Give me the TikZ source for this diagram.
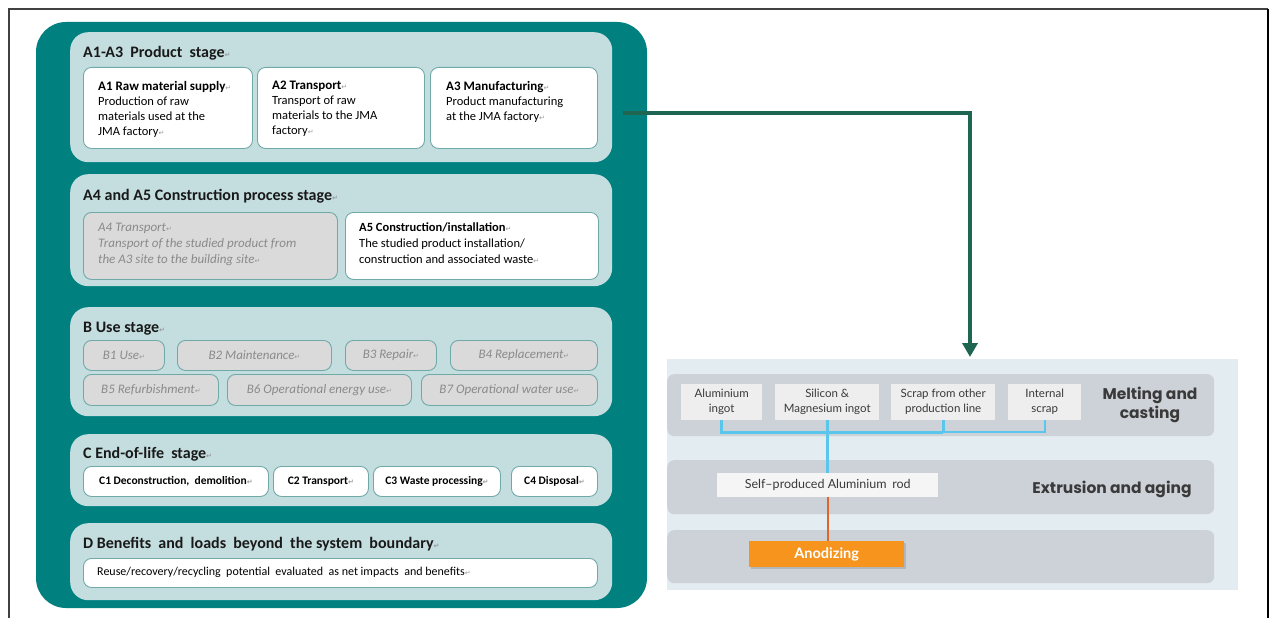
\documentclass[tikz,border=0pt]{standalone}
\usepackage{fontspec}
\setmainfont{Carlito}
\newfontfamily\latof{Lato}
\newfontfamily\popf{Poppins}
\newfontfamily\djvf{DejaVu Sans}
\usetikzlibrary{arrows.meta,shadows}
\definecolor{tealc}{HTML}{00807F}
\definecolor{panelc}{HTML}{C4DEDF}
\definecolor{bordc}{HTML}{6FA9A8}
\definecolor{greyc}{HTML}{DADADA}
\definecolor{gtext}{HTML}{8A8A8A}
\definecolor{retc}{HTML}{9A9A9A}
\definecolor{arrc}{HTML}{1E6652}
\definecolor{rbg}{HTML}{E3ECF0}
\definecolor{bandc}{HTML}{CDD2D8}
\definecolor{sboxc}{HTML}{EEEEEE}
\definecolor{bluec}{HTML}{5BC6EC}
\definecolor{oranl}{HTML}{E0652A}
\definecolor{oranf}{HTML}{F7941E}
\definecolor{darkt}{HTML}{3A3A3A}
\newcommand{\retm}{{\djvf\fontsize{7}{7}\selectfont\color{retc}↵}}
\newcommand{\wsp}{\hspace{0.45em}}
\tikzset{
  panel/.style={fill=panelc, draw=none, rounded corners=18, minimum width=542, anchor=north west, inner sep=0},
  wbox/.style={fill=white, draw=bordc, line width=0.9, rounded corners=8, anchor=north west, inner sep=0},
  gbox/.style={wbox, fill=greyc},
  stitle/.style={anchor=base west, inner sep=0, font=\fontsize{16}{18}\selectfont\bfseries, text=black!90},
  btext/.style={anchor=north west, inner sep=0, align=left, font=\fontsize{12.5}{15}\selectfont},
  itext/.style={font=\fontsize{13}{16}\selectfont\itshape, text=gtext},
  ctext/.style={font=\fontsize{11.5}{13}\selectfont\bfseries},
  band/.style={fill=bandc, draw=none, rounded corners=7, anchor=north west, inner sep=0, minimum width=547},
  sbox/.style={fill=sboxc, draw=none, anchor=north west, inner sep=0, align=center, font=\latof\fontsize{11.5}{15}\selectfont, text=darkt},
  blabel/.style={inner sep=0, align=center, font=\popf\fontsize{15.5}{19}\selectfont\bfseries, text=darkt},
  bthick/.style={draw=bluec, line width=3},
  bthin/.style={draw=bluec, line width=1.6},
  arr/.style={draw=arrc, line width=3.5, -{Triangle[width=15pt,length=14pt]}}
}
\begin{document}
\begin{tikzpicture}[x=1pt,y=-1pt]
\useasboundingbox (0,0) rectangle (1270,618);
\fill[white] (0,0) rectangle (1270,618);
% frame
\draw[black!75, line width=1.3] (9,618) -- (9,9) -- (1268,9);
\draw[black, line width=2] (1268,9) -- (1268,618);
% teal background
\fill[tealc, rounded corners=30] (36,22) rectangle (647,608);
% stage panels
\node[panel, minimum height=130] (pA) at (70,32) {};
\node[panel, minimum height=112] (pB0) at (70,174) {};
\node[panel, minimum height=109] (pB) at (70,307) {};
\node[panel, minimum height=72] (pC) at (70,434) {};
\node[panel, minimum height=77] (pD) at (70,523) {};
% A1-A3
\node[stitle] (tA) at (83,58) {A1-A3\wsp Product\wsp stage\retm};
\node[wbox, minimum width=169, minimum height=81] (a1) at (83,67) {};
\node[wbox, minimum width=167, minimum height=81] (a2) at (257,67) {};
\node[wbox, minimum width=167, minimum height=81] (a3) at (430,67) {};
\node[btext] (a1t) at (98,81) {{\fontsize{13}{15}\selectfont\bfseries A1 Raw material supply}\retm\\Production of raw\\materials used at the\\JMA factory\retm};
\node[btext] (a2t) at (272,81) {{\fontsize{13}{15}\selectfont\bfseries A2 Transport}\retm\\Transport of raw\\materials to the JMA\\factory\retm};
\node[btext] (a3t) at (446,81) {{\fontsize{13}{15}\selectfont\bfseries A3 Manufacturing}\retm\\Product manufacturing\\at the JMA factory\retm};
% A4 A5
\node[stitle] (tA45) at (83,200) {A4 and A5 Construction process stage\retm};
\node[gbox, minimum width=254, minimum height=67] (a4) at (83,212) {};
\node[wbox, minimum width=253, minimum height=67] (a5) at (345,212) {};
\node[btext, itext, anchor=north west] (a4t) at (98,223) {A4 Transport\retm\\Transport of the studied product from\\the A3 site to the building site\retm};
\node[btext, anchor=north west, font=\fontsize{12.5}{16}\selectfont] (a5t) at (359,223) {{\bfseries A5 Construction/installation}\retm\\The studied product installation/\\construction and associated waste\retm};
% B
\node[stitle] (tB) at (83,332) {B Use stage\retm};
\node[gbox, minimum width=81, minimum height=30, itext] (b1) at (83,340) {B1 Use\retm};
\node[gbox, minimum width=154, minimum height=30, itext] (b2) at (177,340) {B2 Maintenance\retm};
\node[gbox, minimum width=91, minimum height=30, itext] (b3) at (345,340) {B3 Repair\retm};
\node[gbox, minimum width=147, minimum height=30, itext] (b4) at (450,340) {B4 Replacement\retm};
\node[gbox, minimum width=135, minimum height=31, itext] (b5) at (83,374) {B5 Refurbishment\retm};
\node[gbox, minimum width=184, minimum height=31, itext] (b6) at (227,374) {B6 Operational energy use\retm};
\node[gbox, minimum width=176, minimum height=31, itext] (b7) at (421,374) {B7 Operational water use\retm};
% C
\node[stitle] (tC) at (83,458) {C End-of-life\wsp stage\retm};
\node[wbox, minimum width=185, minimum height=30, ctext] (c1) at (83,466) {C1 Deconstruction,\wsp demolition\retm};
\node[wbox, minimum width=95, minimum height=30, ctext] (c2) at (273,466) {C2 Transport\retm};
\node[wbox, minimum width=127, minimum height=30, ctext] (c3) at (373,466) {C3 Waste processing\retm};
\node[wbox, minimum width=86, minimum height=30, ctext] (c4) at (511,466) {C4 Disposal\retm};
% D
\node[stitle] (tD) at (83,548) {D Benefits\wsp and\wsp loads\wsp beyond\wsp the system\wsp boundary\retm};
\node[wbox, minimum width=514, minimum height=29] (d1) at (83,558) {};
\node[anchor=west, inner sep=0, font=\fontsize{12}{13}\selectfont] (d1t) at (97,572.5) {Reuse/recovery/recycling\wsp potential\wsp evaluated\wsp as net impacts\wsp and benefits\retm};
% right panel
\fill[rbg] (667,359) rectangle (1238,590);
\node[band, minimum height=62] (m1) at (667,374) {};
\node[band, minimum height=54] (m2) at (667,460) {};
\node[band, minimum height=53] (m3) at (667,530) {};
\node[sbox, minimum width=81, minimum height=36] (al) at (681,384) {Aluminium\\ingot};
\node[sbox, minimum width=104, minimum height=36] (si) at (775,384) {Silicon \&\\Magnesium ingot};
\node[sbox, minimum width=104, minimum height=36] (sc) at (891,384) {Scrap from other\\production line};
\node[sbox, minimum width=73, minimum height=36] (is) at (1008,384) {Internal\\scrap};
\node[blabel] (lm) at (1150,405) {Melting and\\casting};
\node[sbox, minimum width=221, minimum height=24, font=\latof\fontsize{12.5}{15}\selectfont, fill=sboxc!60!white] (rod) at (717,473) {Self–produced Aluminium\wsp rod};
\node[blabel] (le) at (1112,489) {Extrusion and aging};
\node[anchor=north west, inner sep=0, minimum width=155, minimum height=26, fill=oranf, text=white, font=\latof\fontsize{14.5}{16}\selectfont\bfseries, drop shadow={shadow xshift=2pt, shadow yshift=-2pt, opacity=0.35}] (ano) at (749,541) {Anodizing};
% blue connectors
\coordinate (busy) at (0,432);
\draw[bthick] (al.south) -- (al.south |- busy) -- (sc.south |- busy);
\draw[bthick] (sc.south) -- (sc.south |- busy);
\draw[bthin] (sc.south |- busy) -- (is.south |- busy) -- (is.south);
\draw[bthick] (si.south) -- (si.south |- rod.north);
\draw[draw=oranl, line width=1.8] (rod.south) -- (rod.south |- ano.north);
% main arrow
\coordinate (arrS) at (623,113);
\coordinate (arrE) at (970,357);
\draw[arr] (arrS) -| (arrE);
\end{tikzpicture}
\end{document}
